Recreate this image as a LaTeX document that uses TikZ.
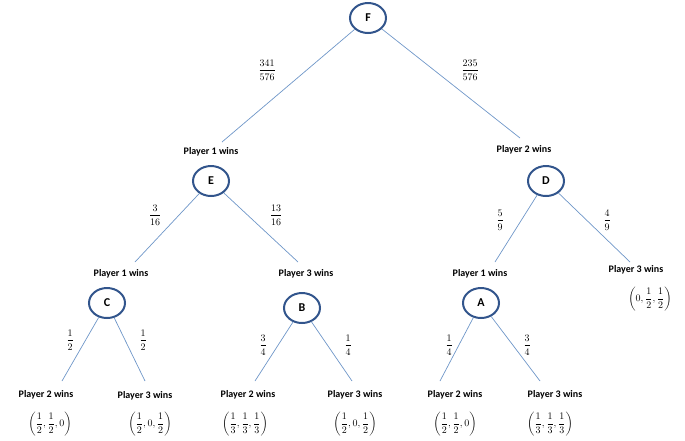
\documentclass[tikz,border=0pt]{standalone}
\usepackage{fontspec}
\newfontfamily\lab{Carlito}
\usetikzlibrary{shapes.geometric}
\definecolor{edge}{RGB}{110,150,200}
\definecolor{ring}{RGB}{50,85,140}
\newcommand{\fr}[2]{\displaystyle\frac{#1}{#2}}
\begin{document}
\begin{tikzpicture}[x=1pt,y=-1pt,
  st/.style={ellipse,draw=ring,line width=2pt,minimum width=36pt,minimum height=30pt,inner sep=0pt,font=\lab\bfseries\fontsize{12}{12}\selectfont},
  lb/.style={font=\lab\bfseries\fontsize{10}{10}\selectfont,inner sep=0pt},
  pr/.style={font=\fontsize{10}{10}\selectfont,inner sep=0pt},
  tp/.style={font=\fontsize{10}{10}\selectfont,inner sep=0pt},
  ed/.style={draw=edge,line width=0.7pt}]
\useasboundingbox (0,0) rectangle (685,440);
\node[st] (F) at (368,18) {F};
\node[st] (E) at (211,181) {E};
\node[st] (D) at (546,181) {D};
\node[st] (C) at (107,303) {C};
\node[st] (B) at (302,308) {B};
\node[st] (A) at (481,303) {A};
% end coordinates
\coordinate (fe) at (222,142); \coordinate (fd) at (520,138);
\coordinate (ec) at (135,262); \coordinate (eb) at (298,262);
\coordinate (da) at (495,262); \coordinate (dr) at (630,262);
\coordinate (c1) at (62,381); \coordinate (c2) at (145,381);
\coordinate (b1) at (255,381); \coordinate (b2) at (352,381);
\coordinate (a1) at (440,381); \coordinate (a2) at (540,381);
\draw[ed] (F) -- (fe); \draw[ed] (F) -- (fd);
\draw[ed] (E) -- (ec); \draw[ed] (E) -- (eb);
\draw[ed] (D) -- (da); \draw[ed] (D) -- (dr);
\draw[ed] (C) -- (c1); \draw[ed] (C) -- (c2);
\draw[ed] (B) -- (b1); \draw[ed] (B) -- (b2);
\draw[ed] (A) -- (a1); \draw[ed] (A) -- (a2);
% labels
\node[lb] (l1) at (211,152) {Player 1 wins};
\node[lb] (l2) at (524,150) {Player 2 wins};
\node[lb] (l3) at (121,274) {Player 1 wins};
\node[lb] (l4) at (306,274) {Player 3 wins};
\node[lb] (l5) at (480,274) {Player 1 wins};
\node[lb] (l6) at (636,270) {Player 3 wins};
\node[lb] (l7) at (46,395) {Player 2 wins};
\node[lb] (l8) at (145,396) {Player 3 wins};
\node[lb] (l9) at (248,395) {Player 2 wins};
\node[lb] (l10) at (355,395) {Player 3 wins};
\node[lb] (l11) at (455,395) {Player 2 wins};
\node[lb] (l12) at (555,395) {Player 3 wins};
% tuples
\node[tp] (t6) at (650,299) {$\left(0,\fr12,\fr12\right)$};
\node[tp] (t1) at (50,424) {$\left(\fr12,\fr12,0\right)$};
\node[tp] (t2) at (150,424) {$\left(\fr12,0,\fr12\right)$};
\node[tp] (t3) at (245,424) {$\left(\fr13,\fr13,\fr13\right)$};
\node[tp] (t4) at (355,424) {$\left(\fr12,0,\fr12\right)$};
\node[tp] (t5) at (455,424) {$\left(\fr12,\fr12,0\right)$};
\node[tp] (t7) at (550,424) {$\left(\fr13,\fr13,\fr13\right)$};
% probabilities
\node[pr] (p1) at (267,70) {$\fr{341}{576}$};
\node[pr] (p2) at (470,70) {$\fr{235}{576}$};
\node[pr] (p3) at (155,215) {$\fr{3}{16}$};
\node[pr] (p4) at (276,215) {$\fr{13}{16}$};
\node[pr] (p5) at (500,220) {$\fr{5}{9}$};
\node[pr] (p6) at (607,220) {$\fr{4}{9}$};
\node[pr] (p7) at (70,340) {$\fr{1}{2}$};
\node[pr] (p8) at (143,340) {$\fr{1}{2}$};
\node[pr] (p9) at (263,345) {$\fr{3}{4}$};
\node[pr] (p10) at (348,345) {$\fr{1}{4}$};
\node[pr] (p11) at (449,345) {$\fr{1}{4}$};
\node[pr] (p12) at (527,345) {$\fr{3}{4}$};
\end{tikzpicture}
\end{document}
